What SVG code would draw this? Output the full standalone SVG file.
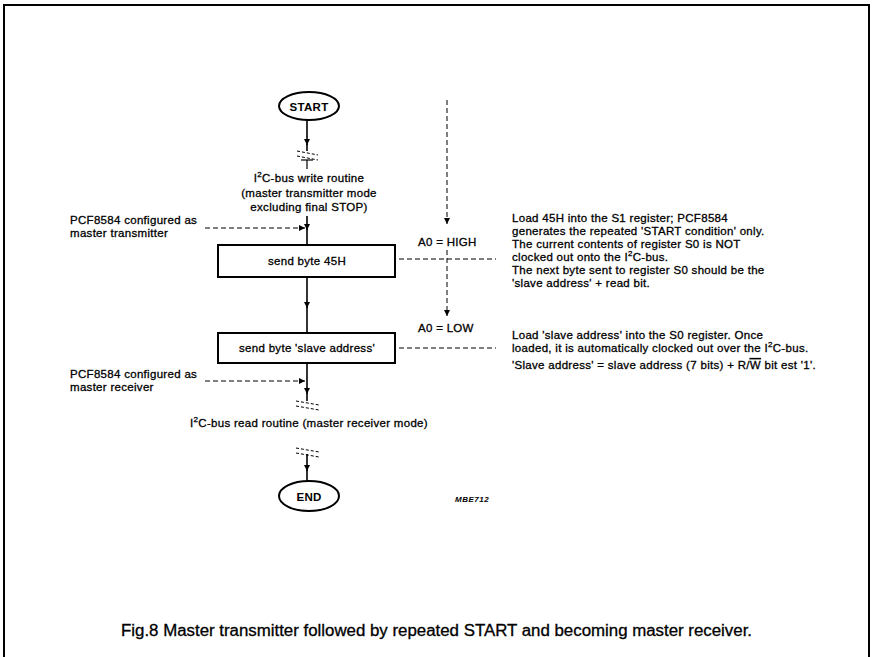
<svg xmlns="http://www.w3.org/2000/svg" width="874" height="657" viewBox="0 0 874 657">
  <style>
    .t { font-family: "Liberation Sans", Arial, sans-serif; font-size: 11.5px; letter-spacing: 0.3px; fill: #000; stroke: #000; stroke-width: 0.3; }
    .c { text-anchor: middle; }
    .b { font-weight: bold; stroke-width: 0; }
    .sup { font-size: 8px; }
    .cap { font-size: 16px; letter-spacing: 0; }
    .code { font-size: 8px; font-weight: bold; font-style: italic; letter-spacing: 0.5px; stroke-width: 0; }
    .ln { stroke: #000; stroke-width: 1.6; fill: none; }
    .dash { stroke: #000; stroke-width: 1; stroke-dasharray: 5 3; fill: none; }
    .brk { stroke: #000; stroke-width: 1; stroke-dasharray: 3 2; fill: none; }
    .box { stroke: #000; stroke-width: 2; fill: #fff; }
  </style>
  <defs>
    <marker id="ah" viewBox="0 0 8 8" refX="8" refY="4" markerWidth="7" markerHeight="6" orient="auto" markerUnits="userSpaceOnUse">
      <path d="M0,0 L8,4 L0,8 z" fill="#000"/>
    </marker>
  </defs>

  <rect width="874" height="657" fill="#fff"/>
  <!-- frame -->
  <path d="M4,657 V5 H869 V657" stroke="#000" stroke-width="2" fill="none"/>

  <!-- terminals and process steps -->
  <g id="start">
    <ellipse cx="309" cy="106" rx="30" ry="14" class="box"/>
    <text x="309" y="110.5" class="t c b">START</text>
  </g>
  <g id="write-routine">
    <text x="309" y="182" class="t c">I<tspan dy="-5" class="sup">2</tspan><tspan dy="5">C-bus write routine</tspan></text>
    <text x="309" y="197" class="t c">(master transmitter mode</text>
    <text x="309" y="211" class="t c">excluding final STOP)</text>
  </g>
  <g id="send-45h">
    <rect x="218" y="245" width="177" height="32" class="box"/>
    <text x="307" y="265" class="t c">send byte 45H</text>
  </g>
  <g id="send-slave">
    <rect x="218" y="333" width="177" height="30" class="box"/>
    <text x="307" y="352" class="t c">send byte 'slave address'</text>
  </g>
  <g id="read-routine">
    <text x="309" y="427" class="t c">I<tspan dy="-5" class="sup">2</tspan><tspan dy="5">C-bus read routine (master receiver mode)</tspan></text>
  </g>
  <g id="end">
    <ellipse cx="309" cy="496" rx="30" ry="15" class="box"/>
    <text x="309" y="500.5" class="t c b">END</text>
  </g>

  <!-- side notes -->
  <g id="note-transmitter">
    <text x="70" y="224" class="t">PCF8584 configured as</text>
    <text x="70" y="237" class="t">master transmitter</text>
  </g>
  <g id="note-receiver">
    <text x="70" y="378" class="t">PCF8584 configured as</text>
    <text x="70" y="391" class="t">master receiver</text>
  </g>
  <g id="a0-high">
    <text x="418" y="246" class="t">A0 = HIGH</text>
  </g>
  <g id="a0-low">
    <text x="418" y="332" class="t">A0 = LOW</text>
  </g>
  <g id="desc-45h">
    <text x="512" y="222" class="t">Load 45H into the S1 register; PCF8584</text>
    <text x="512" y="235" class="t">generates the repeated 'START condition' only.</text>
    <text x="512" y="248" class="t">The current contents of register S0 is NOT</text>
    <text x="512" y="261" class="t">clocked out onto the I<tspan dy="-5" class="sup">2</tspan><tspan dy="5">C-bus.</tspan></text>
    <text x="512" y="274" class="t">The next byte sent to register S0 should be the</text>
    <text x="512" y="287" class="t">'slave address' + read bit.</text>
  </g>
  <g id="desc-slave">
    <text x="512" y="339" class="t">Load 'slave address' into the S0 register. Once</text>
    <text x="512" y="352" class="t">loaded, it is automatically clocked out over the I<tspan dy="-5" class="sup">2</tspan><tspan dy="5">C-bus.</tspan></text>
    <text x="512" y="369" class="t">'Slave address' = slave address (7 bits) + R/<tspan text-decoration="overline">W</tspan> bit est '1'.</text>
  </g>
  <g id="ref-code">
    <text x="455" y="502" class="t code">MBE712</text>
  </g>
  <g id="caption">
    <text x="121" y="636" class="t cap" textLength="631" lengthAdjust="spacingAndGlyphs">Fig.8  Master transmitter followed by repeated START and becoming master receiver.</text>
  </g>

  <!-- connectors -->
  <g id="connectors">
    <!-- main flow -->
    <line x1="307" y1="120" x2="307" y2="145" class="ln" marker-end="url(#ah)"/>
    <line x1="307" y1="144" x2="307" y2="151" class="ln"/>
    <path d="M297,151 L318,155 M297,156 L318,160" class="brk"/>
    <line x1="301" y1="160" x2="313" y2="160" stroke="#000" stroke-width="1.2"/>
    <line x1="307" y1="160" x2="307" y2="169" stroke="#000" stroke-width="1.2"/>
    <line x1="307" y1="216" x2="307" y2="230" class="ln" marker-end="url(#ah)"/>
    <line x1="307" y1="229" x2="307" y2="245" class="ln"/>
    <line x1="307" y1="278" x2="307" y2="308" class="ln" marker-end="url(#ah)"/>
    <line x1="307" y1="307" x2="307" y2="333" class="ln"/>
    <line x1="307" y1="364" x2="307" y2="394" class="ln" marker-end="url(#ah)"/>
    <line x1="307" y1="393" x2="307" y2="401" class="ln"/>
    <path d="M296,401 L319,405 M296,406 L319,410" class="brk"/>
    <path d="M296,448 L319,452 M296,453 L319,457" class="brk"/>
    <line x1="307" y1="454" x2="307" y2="471" class="ln" marker-end="url(#ah)"/>
    <line x1="307" y1="470" x2="307" y2="481" class="ln"/>

    <!-- configuration leaders -->
    <line x1="205" y1="228" x2="305" y2="228" class="dash" marker-end="url(#ah)"/>
    <line x1="205" y1="381" x2="305" y2="381" class="dash" marker-end="url(#ah)"/>

    <!-- A0 select line and register notes -->
    <line x1="447" y1="100" x2="447" y2="224" class="dash" marker-end="url(#ah)"/>
    <line x1="447" y1="250" x2="447" y2="316" class="dash" marker-end="url(#ah)"/>
    <line x1="399" y1="259" x2="496" y2="259" class="dash"/>
    <line x1="399" y1="348" x2="496" y2="348" class="dash"/>
  </g>
</svg>
